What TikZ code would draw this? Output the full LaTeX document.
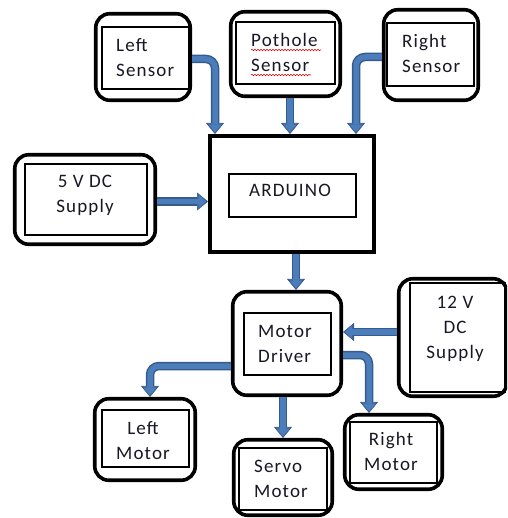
\documentclass[tikz,border=0pt]{standalone}
\usepackage{fontspec}
\setmainfont{Carlito}[LetterSpace=6]
\usetikzlibrary{arrows.meta,calc,decorations.pathmorphing}
\definecolor{arrowfill}{HTML}{4A7DBA}
\definecolor{arrowline}{HTML}{365A8C}
\definecolor{txt}{HTML}{181824}
\begin{document}
\begin{tikzpicture}[x=1pt,y=-1pt,
  obox/.style={draw, line width=3.6pt, rounded corners=14pt, fill=white, inner sep=0pt},
  sbox/.style={draw, line width=4pt, fill=white, inner sep=0pt},
  ibox/.style={draw, line width=1.1pt, inner sep=0pt},
  lbl/.style={font=\fontsize{19}{25}\selectfont, text=txt, inner sep=0pt, align=#1},
  lbl/.default=center,
  flow/.style={draw=arrowline, line width=8.5pt, rounded corners=9pt,
    -{Triangle[width=18pt,length=11pt,line width=0.6pt]},
    postaction={draw=arrowfill, line width=5.5pt, shorten >=1.8pt,
      -{Triangle[width=13pt,length=7.5pt,line width=0.1pt]}}},
  squig/.style={draw=red!85!black, line width=0.6pt,
    decorate, decoration={snake, amplitude=0.7pt, segment length=3pt}}]
\useasboundingbox (0,0) rectangle (507,518);
\clip (0,0) rectangle (507,518);

% outer boxes
\node[obox, minimum width=94.5pt, minimum height=86.5pt] (ls) at (143,57) {};
\node[obox, minimum width=109.5pt, minimum height=84.5pt] (ph) at (285.5,54) {};
\node[obox, minimum width=94.5pt, minimum height=90.5pt] (rs) at (431,55) {};
\node[obox, minimum width=140.5pt, minimum height=89.5pt] (dc5) at (85,199.5) {};
\node[sbox, minimum width=164pt, minimum height=116pt] (ard) at (292,194) {};
\node[obox, minimum width=108.5pt, minimum height=103.5pt] (md) at (287,343.5) {};
\node[obox, minimum width=108.5pt, minimum height=117.5pt] (dc12) at (453,337.5) {};
\node[obox, minimum width=100.5pt, minimum height=81.5pt] (lm) at (145,439.5) {};
\node[obox, minimum width=98.5pt, minimum height=75.5pt] (sv) at (283,477.5) {};
\node[obox, minimum width=97.5pt, minimum height=74.5pt] (rm) at (393.5,452) {};

% inner boxes
\node[ibox, minimum width=87pt, minimum height=62pt] (lsi) at (145.5,58) {};
\node[ibox, minimum width=99pt, minimum height=62pt] (phi) at (285.5,53) {};
\node[ibox, minimum width=87pt, minimum height=63pt] (rsi) at (430.5,54.5) {};
\node[ibox, minimum width=122pt, minimum height=71pt] (dc5i) at (86,199.5) {};
\node[ibox, minimum width=127pt, minimum height=43pt] (ardi) at (292.5,195.5) {};
\node[ibox, minimum width=87pt, minimum height=62pt] (mdi) at (287.5,344) {};
\node[ibox, minimum width=95pt, minimum height=109pt] (dc12i) at (457.5,337.5) {};
\node[ibox, minimum width=87pt, minimum height=57pt] (lmi) at (145.5,438.5) {};
\node[ibox, minimum width=88pt, minimum height=62pt] (svi) at (283,479) {};
\node[ibox, minimum width=87pt, minimum height=61pt] (rmi) at (393.5,452.5) {};

% labels
\node[lbl=left, anchor=west] (lst) at (116,59.5) {\strut Left\\\strut Sensor};
\node[lbl=left, anchor=west] (pht) at (251,54.5) {\strut Pothole\\\strut Sensor};
\node[lbl=left, anchor=west] (rst) at (402,55.5) {\strut Right\\\strut Sensor};
\node[lbl] (dc5t) at (85,195.5) {\strut 5 V DC\\\strut Supply};
\node[lbl, anchor=base] (ardt) at (290,197) {ARDUINO};
\node[lbl=left, anchor=west] (mdt) at (258,344.5) {\strut Motor\\\strut Driver};
\node[lbl] (dc12t) at (455,328) {\strut 12 V\\\strut DC\\\strut Supply};
\node[lbl] (lmt) at (143,441.5) {\strut Left\\\strut Motor};
\node[lbl=left, anchor=west] (svt) at (254,479.5) {\strut Servo\\\strut Motor};
\node[lbl] (rmt) at (391,453) {\strut Right\\\strut Motor};

% spell-check underline
\path[squig] (251,50) -- (321,50);
\path[squig] (251,75) -- (311,75);

% connectors
\draw[flow] ($(ls.east)+(0,2)$) -| ($(ard.north west)+(7,0)$);
\draw[flow] ($(ph.south)+(4.5,0)$) -- ($(ph.south |- ard.north)+(4.5,0)$);
\draw[flow] ($(rs.west)+(0,2)$) -| ($(ard.north east)+(-20,0)$);
\draw[flow] ($(dc5.east)+(0,2)$) -- ($(dc5.east -| ard.west)+(0,2)$);
\draw[flow] ($(ard.south)+(4,0)$) -- ($(ard.south |- md.north)+(4,0)$);
\draw[flow] ($(dc12.west)+(0,-5.5)$) -- ($(dc12.west -| md.east)+(0,-5.5)$);
\draw[flow] ($(md.west)+(0,22.5)$) -| ($(lm.north)+(5,0)$);
\draw[flow] ($(md.south)+(-4,0)$) -- ($(md.south |- sv.north)+(-4,0)$);
\draw[flow] ($(md.east)+(0,11.5)$) -| ($(rm.north)+(-24.5,0)$);
\end{tikzpicture}
\end{document}
